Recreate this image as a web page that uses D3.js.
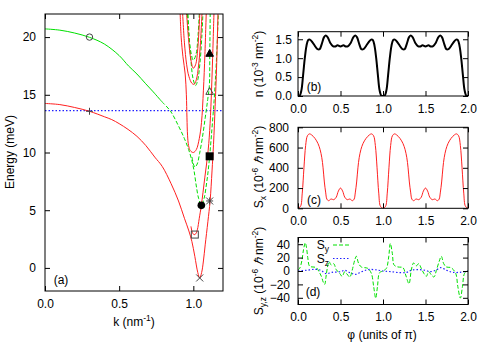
<!DOCTYPE html>
<html>
<head>
<meta charset="utf-8">
<script src="https://cdn.jsdelivr.net/npm/d3@7"></script>
<style>
  body { margin: 0; background: #fff; }
  svg { display: block; }
  text { font-family: "Liberation Sans", Arial, sans-serif; }
</style>
</head>
<body>
<script>
// ---- panel (a): bands E(k), pairs of [k (nm^-1), E (meV)]
const redA = [[0,14.25],[0.1,14.15],[0.2,13.9],[0.3,13.57],[0.4,13.1],[0.45,12.85],[0.5,12.5],[0.56,12.0],[0.62,11.4],[0.68,10.6],[0.74,9.6],[0.79,8.8],[0.85,7.3],[0.9,5.8],[0.94,4.3],[0.97,3.2],[0.99,2.3],[1.01,1.0],[1.03,-0.4],[1.043,-0.87],[1.056,-0.4],[1.068,0.6],[1.08,2.0],[1.098,4.0],[1.113,5.8],[1.126,8.4],[1.136,10.7],[1.147,14],[1.157,17.5],[1.167,22.5]];
const redB = [[0.984,3.6],[0.994,3.05],[1.005,2.88],[1.016,2.95],[1.027,3.3],[1.04,4.3],[1.054,5.42],[1.077,7.8],[1.1,10.2],[1.113,12.5],[1.123,15.5],[1.132,19],[1.14,22.5]];
const redC = [[0.91,22.5],[0.918,20],[0.93,18.3],[0.945,16.8],[0.953,15],[0.957,13],[0.961,11.5],[0.968,10.6],[0.98,10.15],[1.0,10.0],[1.02,10.25],[1.04,11.2],[1.055,12.6],[1.068,15.4],[1.078,18.5],[1.088,22.5]];
const redD = [[0.926,22.5],[0.94,19.5],[0.955,17.6],[0.97,16.6],[0.99,16.0],[1.005,15.9],[1.02,16.3],[1.035,17.5],[1.048,19.5],[1.06,22.5]];
const redE = [[0.952,22.5],[0.968,19.8],[0.984,18.0],[1.0,17.3],[1.015,17.6],[1.03,19.0],[1.045,22.5]];

const greenA = [[0,20.71],[0.1,20.6],[0.2,20.35],[0.3,19.98],[0.4,19.4],[0.5,18.4],[0.563,17.5],[0.62,16.8],[0.676,16.0],[0.73,15.25],[0.788,14.4],[0.845,13.6],[0.9,12.3],[0.94,11.2],[0.968,10.27],[0.99,9.3],[1.005,8.4],[1.02,7.1],[1.036,6.0],[1.054,5.42],[1.072,6.0],[1.09,7.4],[1.105,9.0],[1.122,11.5],[1.14,14.5],[1.155,17.8],[1.17,22.5]];
const greenB = [[0.992,9.6],[1.0,9.0],[1.012,8.75],[1.026,9.0],[1.042,9.9],[1.06,11.2],[1.08,13.0],[1.097,14.6],[1.108,15.8],[1.111,18.6],[1.114,22.5]];
const greenC = [[0.962,22.5],[0.972,20],[0.985,17.8],[0.998,16.4],[1.015,15.8],[1.03,16.3],[1.045,17.8],[1.057,20],[1.066,22.5]];
const greenD = [[0.958,22.5],[0.968,20.4],[0.982,18.8],[1.0,18.0],[1.018,18.5],[1.032,20.2],[1.042,22.5]];

const fermiEnergy = 13.63;

// marked states
const markerK = [0.30, 0.30, 1.11, 1.11, 1.11, 1.11, 1.054, 1.01, 1.043];
const markerE = [20.0, 13.57, 18.6, 15.3, 9.67, 5.8, 5.42, 2.89, -0.87];
const markerShape = ["circle", "plus", "triangleFilled", "triangle", "squareFilled", "star", "circleFilled", "square", "cross"];

const kTicks = [0, 0.5, 1.0];
const energyTicks = [0, 5, 10, 15, 20];

// ---- panels (b)-(d): functions of phi (units of pi), pairs [phi, value]
const phiTicks = [0, 0.5, 1.0, 1.5, 2.0];

const densityN = [[0,0],[0.02,0.01],[0.04,0.15],[0.06,0.55],[0.08,1.0],[0.1,1.33],[0.12,1.48],[0.14,1.49],[0.17,1.42],[0.2,1.32],[0.23,1.24],[0.255,1.24],[0.28,1.38],[0.305,1.55],[0.325,1.6],[0.35,1.55],[0.38,1.4],[0.41,1.32],[0.44,1.31],[0.465,1.34],[0.5,1.31],[0.535,1.34],[0.56,1.31],[0.59,1.32],[0.62,1.4],[0.65,1.55],[0.675,1.6],[0.695,1.55],[0.72,1.38],[0.745,1.24],[0.77,1.24],[0.8,1.32],[0.83,1.42],[0.86,1.49],[0.88,1.48],[0.9,1.33],[0.92,1.0],[0.94,0.55],[0.96,0.15],[0.98,0.01],[1.0,0],
  [1.02,0.01],[1.04,0.15],[1.06,0.55],[1.08,1.0],[1.1,1.33],[1.12,1.48],[1.14,1.49],[1.17,1.42],[1.2,1.32],[1.23,1.24],[1.255,1.24],[1.28,1.38],[1.305,1.55],[1.325,1.6],[1.35,1.55],[1.38,1.4],[1.41,1.32],[1.44,1.31],[1.465,1.34],[1.5,1.31],[1.535,1.34],[1.56,1.31],[1.59,1.32],[1.62,1.4],[1.65,1.55],[1.675,1.6],[1.695,1.55],[1.72,1.38],[1.745,1.24],[1.77,1.24],[1.8,1.32],[1.83,1.42],[1.86,1.49],[1.88,1.48],[1.9,1.33],[1.92,1.0],[1.94,0.55],[1.96,0.15],[1.98,0.01],[2.0,0]];
const nTicks = [0, 0.5, 1.0, 1.5];

const spinX = [[0,0],[0.03,20],[0.05,150],[0.07,400],[0.09,620],[0.11,715],[0.135,735],[0.16,725],[0.2,690],[0.235,640],[0.26,580],[0.28,500],[0.295,400],[0.31,260],[0.325,160],[0.34,90],[0.36,75],[0.39,92],[0.42,85],[0.45,110],[0.475,170],[0.5,200],[0.525,170],[0.55,110],[0.58,85],[0.61,92],[0.64,75],[0.66,90],[0.675,160],[0.69,260],[0.705,400],[0.72,500],[0.74,580],[0.765,640],[0.8,690],[0.84,725],[0.865,735],[0.89,715],[0.91,620],[0.93,400],[0.95,150],[0.97,20],[1.0,0],
  [1.03,20],[1.05,150],[1.07,400],[1.09,620],[1.11,715],[1.135,735],[1.16,725],[1.2,690],[1.235,640],[1.26,580],[1.28,500],[1.295,400],[1.31,260],[1.325,160],[1.34,90],[1.36,75],[1.39,92],[1.42,85],[1.45,110],[1.475,170],[1.5,200],[1.525,170],[1.55,110],[1.58,85],[1.61,92],[1.64,75],[1.66,90],[1.675,160],[1.69,260],[1.705,400],[1.72,500],[1.74,580],[1.765,640],[1.8,690],[1.84,725],[1.865,735],[1.89,715],[1.91,620],[1.93,400],[1.95,150],[1.97,20],[2.0,0]];
const sxTicks = [0, 200, 400, 600, 800];

const spinY = [[0,1.5],[0.02,4],[0.045,15],[0.065,32],[0.086,42],[0.1,35],[0.115,20],[0.137,7],[0.176,6],[0.216,5],[0.247,-1],[0.275,-8],[0.298,-17],[0.314,-20],[0.328,-10],[0.343,3],[0.365,14],[0.39,9],[0.42,11],[0.45,2],[0.49,-3.5],[0.52,-8],[0.55,-1],[0.576,-4.5],[0.61,-9],[0.637,1],[0.667,16],[0.686,22],[0.714,11],[0.745,6],[0.784,5],[0.82,4],[0.863,-3.5],[0.89,-23],[0.914,-40.5],[0.935,-23],[0.96,-2.5],[1.0,0],[1.04,4],[1.067,21],[1.086,41],[1.11,26],[1.13,9],[1.176,6],[1.235,5],[1.267,-6],[1.306,-19],[1.333,1.5],[1.36,12],[1.39,7.5],[1.42,11],[1.45,4],[1.48,-3.5],[1.51,-8],[1.537,-1],[1.57,-6],[1.6,-9],[1.627,0.5],[1.66,14],[1.686,22],[1.714,11],[1.745,6],[1.8,5],[1.855,-3.5],[1.88,-23],[1.91,-40.5],[1.935,-23],[1.96,-3.5],[2.0,0]];
const spinZ = [[0,0],[0.1,1],[0.2,2.5],[0.27,1],[0.33,-4],[0.4,-2],[0.5,-1],[0.55,1],[0.62,-3],[0.68,-5],[0.75,-1],[0.82,2],[0.9,2],[1.0,0],[1.1,-1],[1.2,-2.5],[1.28,-2],[1.33,1],[1.4,2],[1.5,1],[1.55,-1],[1.62,1],[1.68,5],[1.75,1],[1.82,-2],[1.9,-2],[2.0,0]];
const syzTicks = [-40, -20, 0, 20, 40];

// ---- drawing
const W = 491, H = 343;
const RED = "#ff2020", GREEN = "#00e000", BLUE = "#2020ff";

const svg = d3.select("body").append("svg")
  .attr("width", W)
  .attr("height", H);

const defs = svg.append("defs");

function panel(id, box, xDomain, yDomain) {
  const x = d3.scaleLinear().domain(xDomain).range([box.l, box.r]);
  const y = d3.scaleLinear().domain(yDomain).range([box.b, box.t]);
  defs.append("clipPath").attr("id", "clip-" + id)
    .append("rect")
    .attr("x", box.l).attr("y", box.t)
    .attr("width", box.r - box.l).attr("height", box.b - box.t);
  const g = svg.append("g");
  const plot = g.append("g").attr("clip-path", `url(#clip-${id})`);
  return { x, y, g, plot, box };
}

function frame(p, xTicks, yTicks, xFmt, yFmt, yPad) {
  const { x, y, g, box } = p;
  const style = sel => {
    sel.select(".domain").remove();
    sel.selectAll("line").attr("stroke", "#000");
    sel.selectAll("text")
      .attr("font-family", "'Liberation Sans', Arial, sans-serif")
      .attr("font-size", 12)
      .attr("fill", "#000");
  };
  g.append("g").attr("transform", `translate(0,${box.b})`)
    .call(d3.axisBottom(x).tickValues(xTicks).tickSize(-5).tickPadding(8).tickFormat(xFmt))
    .call(style);
  g.append("g").attr("transform", `translate(0,${box.t})`)
    .call(d3.axisTop(x).tickValues(xTicks).tickSize(-5).tickFormat(""))
    .call(style);
  g.append("g").attr("transform", `translate(${box.l},0)`)
    .call(d3.axisLeft(y).tickValues(yTicks).tickSize(-5).tickPadding(yPad).tickFormat(yFmt))
    .call(style);
  g.append("g").attr("transform", `translate(${box.r},0)`)
    .call(d3.axisRight(y).tickValues(yTicks).tickSize(-5).tickFormat(""))
    .call(style);
  g.append("rect")
    .attr("x", box.l).attr("y", box.t)
    .attr("width", box.r - box.l).attr("height", box.b - box.t)
    .attr("fill", "none").attr("stroke", "#000").attr("stroke-width", 1);
}

function curve(p, data, color, width, dash) {
  const line = d3.line()
    .x(d => p.x(d[0]))
    .y(d => p.y(d[1]))
    .curve(d3.curveCatmullRom.alpha(0.5));
  p.plot.append("path")
    .datum(data)
    .attr("d", line)
    .attr("fill", "none")
    .attr("stroke", color)
    .attr("stroke-width", width)
    .attr("stroke-dasharray", dash || null);
}

function label(x, y, parts, opts = {}) {
  // parts: [text, "sup"|"sub"|null]
  const t = svg.append("text")
    .attr("x", x).attr("y", y)
    .attr("font-size", 12)
    .attr("text-anchor", opts.anchor || "middle")
    .attr("fill", "#000");
  if (opts.rotate) t.attr("transform", `rotate(-90,${x},${y})`);
  let shift = 0;
  parts.forEach(([s, kind]) => {
    const target = kind === "sup" ? -5 : kind === "sub" ? 3 : 0;
    t.append("tspan")
      .attr("dy", target - shift)
      .attr("font-size", kind ? 8.5 : 12)
      .attr("font-style", s === "\u210F" ? "italic" : null)
      .text(s);
    shift = target;
  });
  return t;
}

// ---------------- panel (a)
const pa = panel("a", { l: 45, r: 223, t: 14, b: 291 }, [0, 1.2], [-2, 22]);

pa.plot.append("line")
  .attr("x1", pa.x(0)).attr("x2", pa.x(1.2))
  .attr("y1", pa.y(fermiEnergy)).attr("y2", pa.y(fermiEnergy))
  .attr("stroke", BLUE).attr("stroke-width", 1.2).attr("stroke-dasharray", "1.5,2");

// long green branch looks solid where it is flat, dashed where it is steep
const solidUntil = 0.8;
curve(pa, greenA.filter(d => d[0] <= solidUntil + 0.001), GREEN, 1);
curve(pa, greenA.filter(d => d[0] >= 0.788), GREEN, 1, "4,2");
[greenB, greenC, greenD].forEach(b => curve(pa, b, GREEN, 1, "4,2"));
[redA, redB, redC, redD, redE].forEach(b => curve(pa, b, RED, 1));

const markers = pa.plot.append("g");
markerK.forEach((k, i) => {
  const cx = pa.x(k), cy = pa.y(markerE[i]);
  const shape = markerShape[i];
  const gray = "#444";
  if (shape === "circle") {
    markers.append("circle").attr("cx", cx).attr("cy", cy).attr("r", 3.2)
      .attr("fill", "none").attr("stroke", gray);
  } else if (shape === "circleFilled") {
    markers.append("circle").attr("cx", cx).attr("cy", cy).attr("r", 3.8).attr("fill", "#000");
  } else if (shape === "square") {
    markers.append("rect").attr("x", cx - 3.5).attr("y", cy - 3.5).attr("width", 7).attr("height", 7)
      .attr("fill", "none").attr("stroke", gray);
  } else if (shape === "squareFilled") {
    markers.append("rect").attr("x", cx - 4).attr("y", cy - 4).attr("width", 8).attr("height", 8).attr("fill", "#000");
  } else if (shape === "triangle" || shape === "triangleFilled") {
    const s = 3.8;
    markers.append("path")
      .attr("d", `M${cx},${cy - s}L${cx + s},${cy + s * 0.8}L${cx - s},${cy + s * 0.8}Z`)
      .attr("fill", shape === "triangleFilled" ? "#000" : "none")
      .attr("stroke", shape === "triangleFilled" ? "#000" : gray);
  } else {
    const s = 3.5;
    const segs = [];
    if (shape === "plus" || shape === "star") segs.push([cx - s, cy, cx + s, cy], [cx, cy - s, cx, cy + s]);
    if (shape === "cross" || shape === "star") segs.push([cx - s, cy - s, cx + s, cy + s], [cx - s, cy + s, cx + s, cy - s]);
    segs.forEach(([x1, y1, x2, y2]) => markers.append("line")
      .attr("x1", x1).attr("y1", y1).attr("x2", x2).attr("y2", y2)
      .attr("stroke", gray).attr("stroke-width", 1));
  }
});

frame(pa, kTicks, energyTicks, d3.format(".1f"), d3.format("d"), 9);
label(14, 152, [["Energy (meV)", null]], { rotate: true });
label(134, 326, [["k (nm", null], ["-1", "sup"], [")", null]]);
svg.append("text").attr("x", 61).attr("y", 284).attr("font-size", 12).attr("text-anchor", "middle").text("(a)");

// ---------------- panel (b)
const pb = panel("b", { l: 298, r: 468, t: 31.7, b: 96 }, [0, 2], [0, 1.7]);
curve(pb, densityN, "#000", 2);
frame(pb, phiTicks, nTicks, d3.format(".1f"), d3.format(".1f"), 6);
label(263, 64, [["n (10", null], ["-3", "sup"], [" nm", null], ["-2", "sup"], [")", null]], { rotate: true });
svg.append("text").attr("x", 314).attr("y", 91).attr("font-size", 12).attr("text-anchor", "middle").text("(b)");

// ---------------- panel (c)
const pc = panel("c", { l: 298, r: 468, t: 127.3, b: 208.3 }, [0, 2], [0, 800]);
curve(pc, spinX, RED, 1);
frame(pc, phiTicks, sxTicks, d3.format(".1f"), d3.format("d"), 9);
label(263, 167, [["S", null], ["x", "sub"], [" (10", null], ["-6", "sup"], [" ", null], ["\u210F", null], [" nm", null], ["-2", "sup"], [")", null]], { rotate: true });
svg.append("text").attr("x", 314).attr("y", 204).attr("font-size", 12).attr("text-anchor", "middle").text("(c)");

// ---------------- panel (d)
const pd = panel("d", { l: 298, r: 468, t: 237.5, b: 304.5 }, [0, 2], [-50, 50]);
curve(pd, spinZ, BLUE, 1.2, "1.5,2");
curve(pd, spinY, GREEN, 1, "4,2");
frame(pd, phiTicks, syzTicks, d3.format(".1f"), d3.format("d"), 8);
label(263, 271, [["S", null], ["y,z", "sub"], [" (10", null], ["-6", "sup"], [" ", null], ["\u210F", null], [" nm", null], ["-2", "sup"], [")", null]], { rotate: true });
svg.append("text").attr("x", 313).attr("y", 296).attr("font-size", 12).attr("text-anchor", "middle").text("(d)");
label(382, 339, [["\u03C6 (units of \u03C0)", null]]);

// legend
const leg = svg.append("g");
[["y", GREEN, "4,2", 245], ["z", BLUE, "1.5,2", 258.5]].forEach(([sub, color, dash, ly]) => {
  const t = leg.append("text").attr("x", 329).attr("y", ly + 4).attr("font-size", 12).attr("text-anchor", "end");
  t.append("tspan").text("S");
  t.append("tspan").attr("dy", 3).attr("font-size", 8.5).text(sub);
  leg.append("line").attr("x1", 333).attr("x2", 350).attr("y1", ly).attr("y2", ly)
    .attr("stroke", color).attr("stroke-width", color === BLUE ? 1.2 : 1).attr("stroke-dasharray", dash);
});
</script>
</body>
</html>
